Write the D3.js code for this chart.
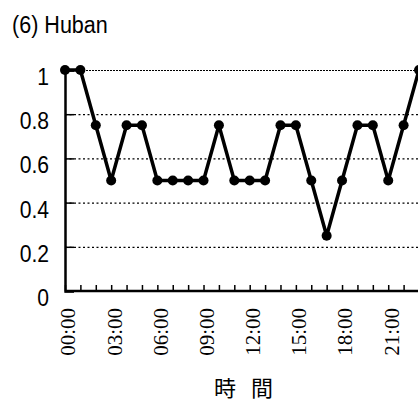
<!DOCTYPE html>
<html>
<head>
<meta charset="utf-8">
<script src="https://cdn.jsdelivr.net/npm/d3@7"></script>
<style>
  body { margin: 0; background: #fff; }
  svg { display: block; }
</style>
</head>
<body>
<div id="chart"></div>
<script>
// hourly values, 00:00 .. 23:00
let hours = d3.range(0, 24);
let values = [1, 1, 0.75, 0.5, 0.75, 0.75, 0.5, 0.5, 0.5, 0.5, 0.75, 0.5,
              0.5, 0.5, 0.75, 0.75, 0.5, 0.25, 0.5, 0.75, 0.75, 0.5, 0.75, 1];
let yTicks = [0, 0.2, 0.4, 0.6, 0.8, 1];
let xLabelHours = [0, 3, 6, 9, 12, 15, 18, 21];

let width = 418, height = 405;
let svg = d3.select("#chart").append("svg")
    .attr("width", width)
    .attr("height", height);

let xscale = d3.scaleLinear().domain([0, 23]).range([65, 419]);
let yscale = d3.scaleLinear().domain([0, 1]).range([291, 70]);

// title
svg.append("text")
    .attr("transform", "translate(12,33) scale(0.98,1.05)")
    .style("font-family", "Liberation Sans, Arial, sans-serif")
    .style("font-size", "22px")
    .text("(6) Huban");

// grid lines
svg.append("g").selectAll("line")
    .data(yTicks.filter(d => d > 0))
    .enter().append("line")
    .attr("x1", xscale(0))
    .attr("x2", width)
    .attr("y1", d => yscale(d) + 0.5)
    .attr("y2", d => yscale(d) + 0.5)
    .attr("stroke", "#000")
    .attr("stroke-width", 1.2)
    .attr("stroke-dasharray", d => d === 1 ? "2,1" : "2,2.5");

// y axis
let yaxis = d3.axisRight(yscale)
    .tickValues(yTicks)
    .tickSize(9)
    .tickFormat("");
let yaxisSel = svg.append("g")
    .attr("transform", `translate(${xscale(0)},0)`)
    .call(yaxis);
yaxisSel.select(".domain").attr("stroke-width", 2.5);
yaxisSel.selectAll(".tick line").attr("stroke-width", 1.5);

// y labels (sitting a bit below their tick), slightly condensed
svg.append("g").selectAll("text")
    .data(yTicks)
    .enter().append("text")
    .attr("transform", d => `translate(49,${yscale(d) + 15}) scale(0.88,1)`)
    .style("text-anchor", "end")
    .style("font-family", "Liberation Sans, Arial, sans-serif")
    .style("font-size", "24px")
    .text(d => d3.format("")(d));

// x axis
let xaxis = d3.axisTop(xscale)
    .tickValues(hours)
    .tickSize(6)
    .tickSizeOuter(0)
    .tickFormat("");
let xaxisSel = svg.append("g")
    .attr("transform", `translate(0,${yscale(0)})`)
    .call(xaxis);
xaxisSel.select(".domain").attr("stroke-width", 2.5).attr("d", `M${xscale(0)},0H${width}`);
xaxisSel.selectAll(".tick line").attr("stroke-width", 1.5);

// x labels, rotated
svg.append("g").selectAll("text")
    .data(xLabelHours)
    .enter().append("text")
    .attr("transform", d => `translate(${xscale(d) + 3},308) rotate(-90)`)
    .attr("dy", "0.35em")
    .style("text-anchor", "end")
    .style("font-family", "Liberation Serif, Times New Roman, serif")
    .style("font-size", "21px")
    .text(d => d3.format("02")(d) + ":00");

// x title
svg.append("text")
    .attr("x", 246)
    .attr("y", 396)
    .style("text-anchor", "middle")
    .style("letter-spacing", "5px")
    .style("font-family", "Noto Sans CJK JP, sans-serif")
    .style("font-size", "22px")
    .text("時 間");

// line and points
let line = d3.line()
    .x((d, i) => xscale(hours[i]))
    .y(d => yscale(d));
svg.append("path")
    .datum(values)
    .attr("d", line)
    .attr("fill", "none")
    .attr("stroke", "#000")
    .attr("stroke-width", 3.5)
    .attr("stroke-linejoin", "round");

svg.append("g").selectAll("circle")
    .data(values)
    .enter().append("circle")
    .attr("cx", (d, i) => xscale(hours[i]))
    .attr("cy", d => yscale(d))
    .attr("r", 5)
    .attr("fill", "#000");
</script>
</body>
</html>
